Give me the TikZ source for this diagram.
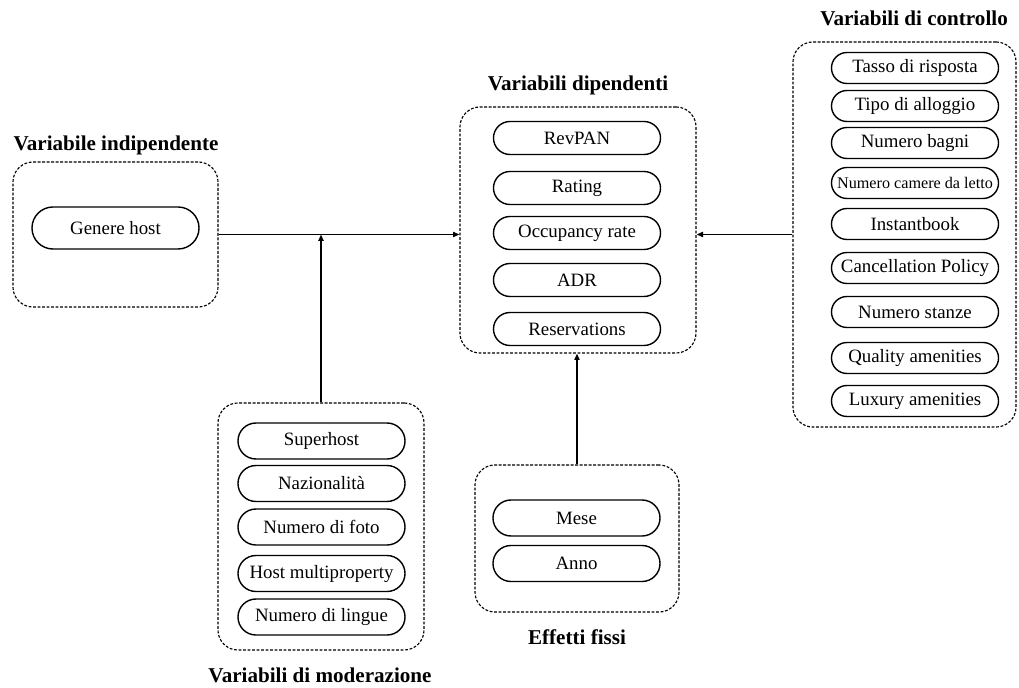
\documentclass[tikz,border=0pt]{standalone}
\usepackage{fontspec}
\setmainfont{Liberation Serif}
\usetikzlibrary{shapes.misc,arrows.meta}

\begin{document}
\begin{tikzpicture}[
    x=0.025cm, y=-0.025cm,
    pill/.style={rounded rectangle, draw, line width=1pt, minimum width=4.175cm,
        inner xsep=0pt, font=\fontsize{13.4}{16}\selectfont},
    group/.style={draw, line width=0.8pt, dash pattern=on 2pt off 1.2pt,
        rounded corners=5mm},
    title/.style={font=\bfseries\fontsize{15}{18}\selectfont},
    link/.style={line width=1pt, -{Triangle[length=1.6mm,width=1.3mm]}}
]

\useasboundingbox (0,0) rectangle (1019,688);

% group boxes
\node[group, minimum width=5.125cm, minimum height=3.625cm] (indep) at (115.5,234.5) {};
\node[group, minimum width=5.9cm, minimum height=6.15cm] (dep) at (578,230) {};
\node[group, minimum width=5.575cm, minimum height=9.625cm] (ctrl) at (904.5,234.5) {};
\node[group, minimum width=5.15cm, minimum height=6.175cm] (mod) at (321,526.5) {};
\node[group, minimum width=5.1cm, minimum height=3.675cm] (fix) at (577,538.5) {};

% titles
\node[title] (tindep) at (116,145) {Variabile indipendente};
\node[title] (tdep) at (578,85) {Variabili dipendenti};
\node[title] (tctrl) at (914,18) {Variabili di controllo};
\node[title] (tmod) at (320,675) {Variabili di moderazione};
\node[title] (tfix) at (577,637) {Effetti fissi};

% independent
\node[pill, minimum height=1.05cm] (genere) at (115.5,228) {Genere host};

% dependent
\node[pill, minimum height=0.825cm] (revpan) at (577,138) {RevPAN};
\node[pill, minimum height=0.825cm] (rating) at (577,188) {Rating};
\node[pill, minimum height=0.825cm] (occ) at (577,233) {Occupancy rate};
\node[pill, minimum height=0.825cm] (adr) at (577,280) {ADR};
\node[pill, minimum height=0.825cm] (res) at (577,329) {Reservations};

% control
\node[pill, minimum height=0.775cm] (tasso) at (915,68) {Tasso di risposta};
\node[pill, minimum height=0.775cm] (tipo) at (915,106) {Tipo di alloggio};
\node[pill, minimum height=0.775cm] (bagni) at (915,143) {Numero bagni};
\node[pill, minimum height=0.775cm, font=\fontsize{11.5}{14}\selectfont] (camere) at (915,183) {Numero camere da letto};
\node[pill, minimum height=0.775cm] (instant) at (915,224) {Instantbook};
\node[pill, minimum height=0.775cm] (cancel) at (915,268) {Cancellation Policy};
\node[pill, minimum height=0.775cm] (stanze) at (915,312) {Numero stanze};
\node[pill, minimum height=0.775cm] (quality) at (915,358) {Quality amenities};
\node[pill, minimum height=0.775cm] (luxury) at (915,401) {Luxury amenities};

% moderation
\node[pill, minimum height=0.9cm] (superhost) at (321.5,441) {Superhost};
\node[pill, minimum height=0.9cm] (naz) at (321.5,483.5) {Nazionalità};
\node[pill, minimum height=0.9cm] (foto) at (321.5,527) {Numero di foto};
\node[pill, minimum height=0.9cm] (multi) at (321.5,573.5) {Host multiproperty};
\node[pill, minimum height=0.9cm] (lingue) at (321.5,617) {Numero di lingue};

% fixed effects
\node[pill, minimum height=0.9cm] (mese) at (576.5,518) {Mese};
\node[pill, minimum height=0.9cm] (anno) at (576.5,563.5) {Anno};

% connectors
\draw[link] (indep.east) -- (indep.east -| dep.west);
\draw[link] (ctrl.west) -- (ctrl.west -| dep.east);
\draw[link] (mod.north) -- (mod.north |- indep.east);
\draw[link] (fix.north) -- (fix.north |- dep.south);

\end{tikzpicture}
\end{document}
